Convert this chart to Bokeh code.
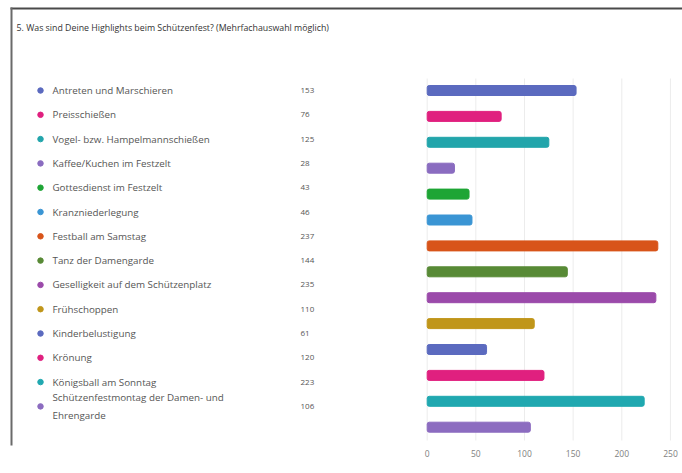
from bokeh.plotting import figure
from bokeh.models import ColumnDataSource, Range1d, FixedTicker, BoxAnnotation
from bokeh.core.properties import value
from bokeh.embed import file_html
from bokeh.resources import INLINE

title_text = "5. Was sind Deine Highlights beim Schützenfest? (Mehrfachauswahl möglich)"
labels = [
    "Antreten und Marschieren",
    "Preisschießen",
    "Vogel- bzw. Hampelmannschießen",
    "Kaffee/Kuchen im Festzelt",
    "Gottesdienst im Festzelt",
    "Kranzniederlegung",
    "Festball am Samstag",
    "Tanz der Damengarde",
    "Geselligkeit auf dem Schützenplatz",
    "Frühschoppen",
    "Kinderbelustigung",
    "Krönung",
    "Königsball am Sonntag",
    "Schützenfestmontag der Damen- und\nEhrengarde",
]
counts = [153, 76, 125, 28, 43, 46, 237, 144, 235, 110, 61, 120, 223, 106]
colors = ["#5b6abf", "#e0207f", "#22a5ab", "#8a6cc0", "#1ea535", "#3a95d4", "#d8541a",
          "#588a36", "#9b4aaa", "#c0961a", "#5b6abf", "#e0207f", "#20a8b0", "#8c6cc0"]
tick_values = [0, 50, 100, 150, 200, 250]

FONT = "Open Sans"
W, H = 682, 473
BOTTOM = 28
FRAME_H = H - BOTTOM
PXU = 0.973          # pixels per unit
X0 = 426.7           # canvas x of value 0
BAR_Y0, BAR_STEP = 90.0, 25.9
ROW_Y0, ROW_STEP = 90.0, 24.3

idx = list(range(len(labels)))
src = ColumnDataSource(dict(idx=idx, label=labels, count=[str(c) for c in counts],
                            value=counts, color=colors))

p = figure(width=W, height=H, output_backend="svg", toolbar_location=None,
           x_range=Range1d(-X0 / PXU, (W - X0) / PXU),
           y_range=Range1d((FRAME_H - BAR_Y0) / BAR_STEP, -BAR_Y0 / BAR_STEP),
           min_border_left=0, min_border_right=0, min_border_top=0,
           min_border_bottom=BOTTOM, y_axis_location=None)
p.extra_x_ranges = {"px": Range1d(0, W)}
p.extra_y_ranges = {"pxy": Range1d(FRAME_H, 0),
                    "list": Range1d((FRAME_H - ROW_Y0) / ROW_STEP, -ROW_Y0 / ROW_STEP)}
p.outline_line_color = None
p.background_fill_color = "white"
p.border_fill_color = "white"
p.grid.visible = False

# card frame (top and left edges)
p.add_layout(BoxAnnotation(left=10, right=682, top=7, bottom=9,
                           left_units="canvas", right_units="canvas",
                           top_units="canvas", bottom_units="canvas",
                           fill_color="#4a4a4a", fill_alpha=1, line_color=None))
p.add_layout(BoxAnnotation(left=10, right=12, top=7, bottom=473,
                           left_units="canvas", right_units="canvas",
                           top_units="canvas", bottom_units="canvas",
                           fill_color="#6a6a6a", fill_alpha=1, line_color=None))

# light vertical gridlines at tick positions
p.segment(x0=tick_values, x1=tick_values, y0=78, y1=440, y_range_name="pxy",
          line_color="#ececec", line_width=1)

# bars
p.hbar(y="idx", left=0, right="value", height=10 / BAR_STEP, color="color",
       source=src, border_radius=2)

# list
p.scatter(x=40, y="idx", size=5.5, color="color", x_range_name="px",
          y_range_name="list", source=src)
p.text(x=52, y="idx", text="label", x_range_name="px", y_range_name="list",
       source=src, text_font=value(FONT), text_font_size="9.8px",
       text_color="#555555", text_baseline="middle", text_line_height=1.4)
p.text(x=300, y="idx", text="count", x_range_name="px", y_range_name="list",
       source=src, text_font=value(FONT), text_font_size="8px",
       text_color="#555555", text_baseline="middle")

# title
p.text(x=[16], y=[27], text=[title_text], x_range_name="px", y_range_name="pxy",
       text_font=value(FONT), text_font_size="8.8px", text_color="#333333",
       text_baseline="middle")

ax = p.xaxis[0]
ax.ticker = FixedTicker(ticks=tick_values)
ax.axis_line_color = None
ax.major_tick_line_color = None
ax.minor_tick_line_color = None
ax.major_tick_out = 0
ax.major_tick_in = 0
ax.major_label_standoff = 4
ax.major_label_text_font = FONT
ax.major_label_text_font_size = "8.5px"
ax.major_label_text_color = "#808080"

open("out.html", "w").write(file_html(p, INLINE))
